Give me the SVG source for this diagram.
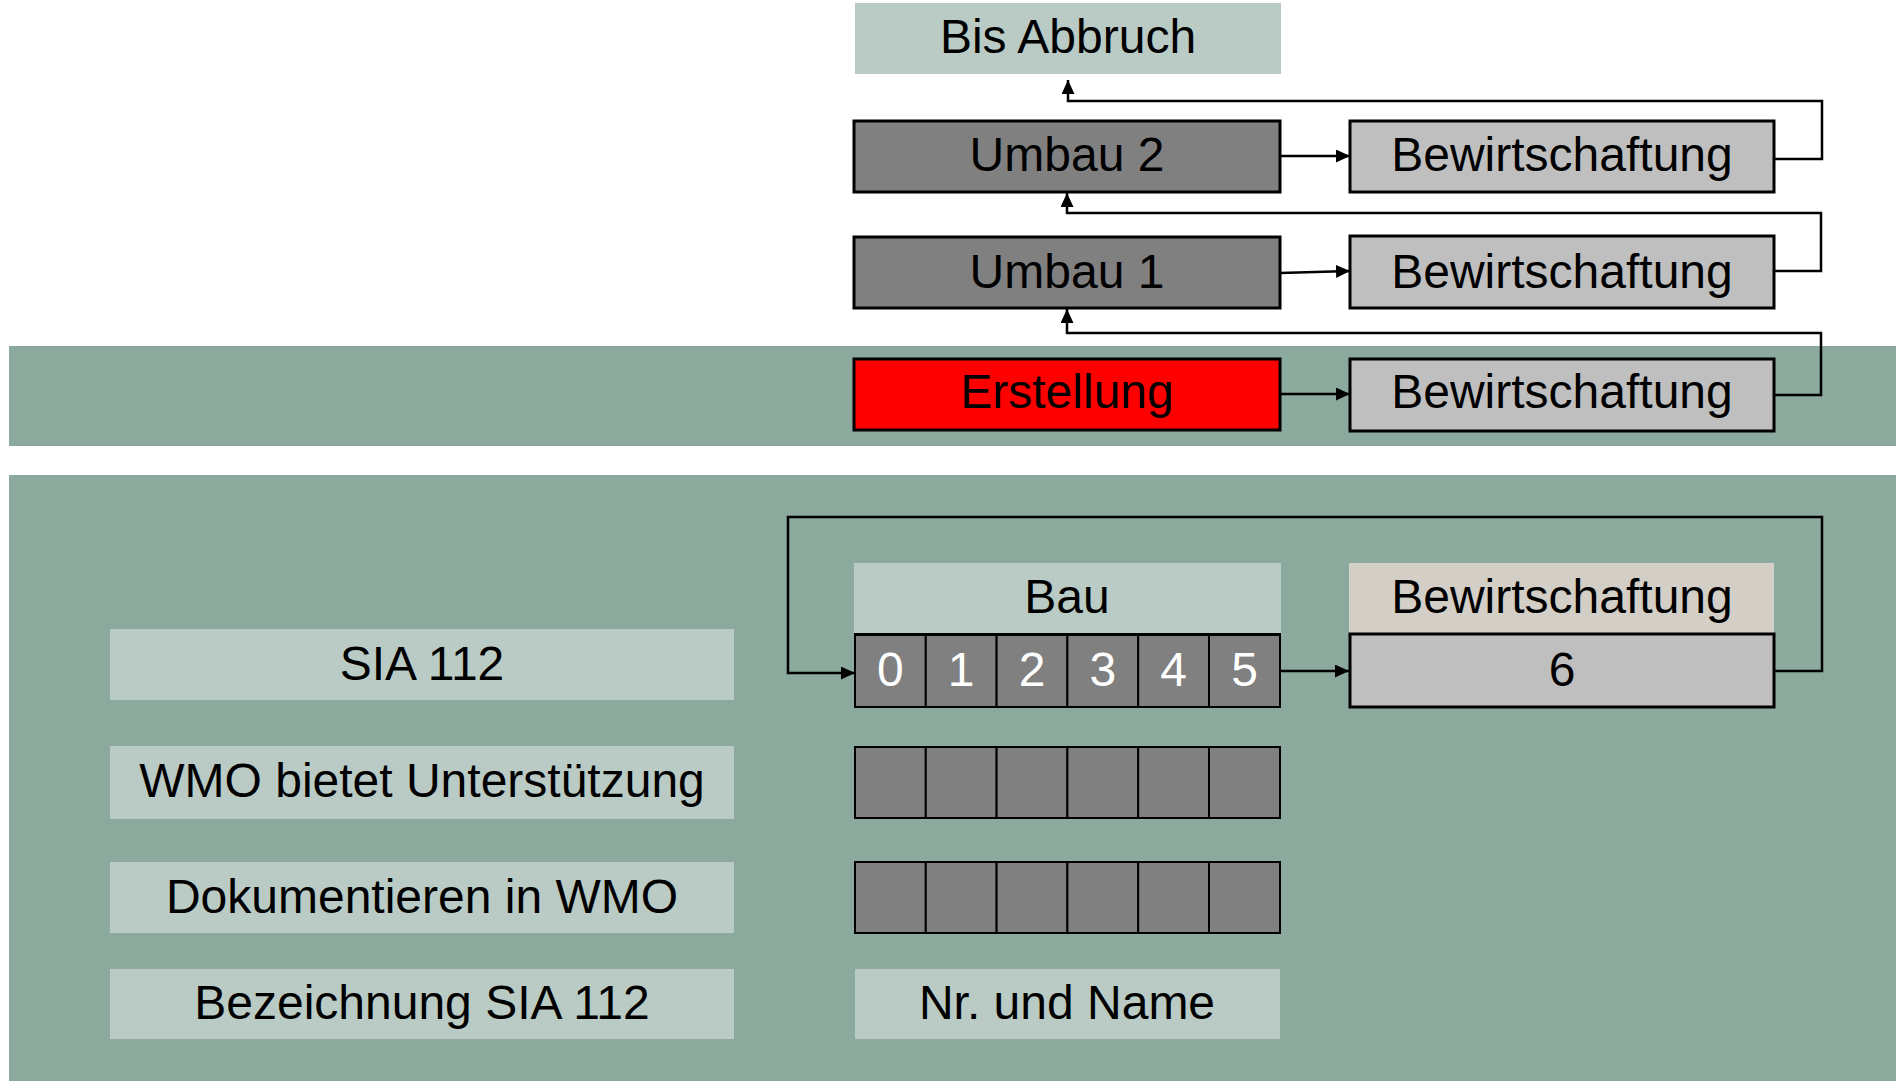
<svg xmlns="http://www.w3.org/2000/svg" width="1896" height="1081" viewBox="0 0 1896 1081">
<defs>
<style>
text{font-family:"Liberation Sans",Arial,sans-serif;font-size:48px;text-anchor:middle;fill:#000}
.band{fill:#8ba99c}
.lite{fill:#b9cbc4}
.dark{fill:#808080;stroke:#000;stroke-width:3}
.gray{fill:#bfbfbf;stroke:#000;stroke-width:3}
.red{fill:#ff0000;stroke:#000;stroke-width:3}
.tan{fill:#d3cec6}
.cell{fill:#808080;stroke:#000;stroke-width:2}
.w{fill:#fff}
.con{fill:none;stroke:#000;stroke-width:2.5;marker-end:url(#ah)}
</style>
<marker id="ah" markerUnits="userSpaceOnUse" markerWidth="16" markerHeight="14" refX="14" refY="6.5" orient="auto">
<path d="M0,0 L14,6.5 L0,13 z" fill="#000"/>
</marker>
</defs>
<rect width="1896" height="1081" fill="#fff"/>
<rect class="band" x="9" y="346" width="1887" height="100"/>
<rect class="band" x="9" y="475" width="1887" height="606"/>

<g id="bis-abbruch"><rect class="lite" x="855" y="3" width="426" height="71"/><text x="1068" y="53">Bis Abbruch</text></g>
<g id="umbau2"><rect class="dark" x="854" y="121" width="426" height="71"/><text x="1067" y="171">Umbau 2</text></g>
<g id="bew2"><rect class="gray" x="1350" y="121" width="424" height="71"/><text x="1562" y="171">Bewirtschaftung</text></g>
<g id="umbau1"><rect class="dark" x="854" y="237" width="426" height="71"/><text x="1067" y="288">Umbau 1</text></g>
<g id="bew1"><rect class="gray" x="1350" y="236" width="424" height="72"/><text x="1562" y="288">Bewirtschaftung</text></g>
<g id="erstellung"><rect class="red" x="854" y="359" width="426" height="71"/><text x="1067" y="408">Erstellung</text></g>
<g id="bew0"><rect class="gray" x="1350" y="359" width="424" height="72"/><text x="1562" y="408">Bewirtschaftung</text></g>

<g id="sia112"><rect class="lite" x="110" y="629" width="624" height="71"/><text x="422" y="680">SIA 112</text></g>
<g id="wmo-support"><rect class="lite" x="110" y="746" width="624" height="73"/><text x="422" y="797">WMO bietet Unterstützung</text></g>
<g id="wmo-doc"><rect class="lite" x="110" y="862" width="624" height="71"/><text x="422" y="913">Dokumentieren in WMO</text></g>
<g id="bez-sia"><rect class="lite" x="110" y="969" width="624" height="70"/><text x="422" y="1019">Bezeichnung SIA 112</text></g>

<g id="bau"><rect class="lite" x="854" y="563" width="427" height="71"/><text x="1067" y="613">Bau</text></g>
<g id="bew-header"><rect class="tan" x="1349" y="563" width="425" height="71"/><text x="1562" y="613">Bewirtschaftung</text></g>
<g id="phases">
<rect class="cell" x="855" y="634" width="70.8" height="73"/>
<rect class="cell" x="925.8" y="634" width="70.8" height="73"/>
<rect class="cell" x="996.6" y="634" width="70.8" height="73"/>
<rect class="cell" x="1067.4" y="634" width="70.8" height="73"/>
<rect class="cell" x="1138.2" y="634" width="70.8" height="73"/>
<rect class="cell" x="1209" y="634" width="71" height="73"/>
<line x1="855" y1="634.5" x2="1280" y2="634.5" stroke="#000" stroke-width="3"/>
<text class="w" x="890.4" y="686">0</text>
<text class="w" x="961.2" y="686">1</text>
<text class="w" x="1032" y="686">2</text>
<text class="w" x="1102.8" y="686">3</text>
<text class="w" x="1173.6" y="686">4</text>
<text class="w" x="1244.5" y="686">5</text>
</g>
<g id="phase6"><rect class="gray" x="1350" y="634" width="424" height="73"/><text x="1562" y="686">6</text></g>
<g id="grid-support">
<rect class="cell" x="855" y="747" width="70.8" height="71"/>
<rect class="cell" x="925.8" y="747" width="70.8" height="71"/>
<rect class="cell" x="996.6" y="747" width="70.8" height="71"/>
<rect class="cell" x="1067.4" y="747" width="70.8" height="71"/>
<rect class="cell" x="1138.2" y="747" width="70.8" height="71"/>
<rect class="cell" x="1209" y="747" width="71" height="71"/>
</g>
<g id="grid-doc">
<rect class="cell" x="855" y="862" width="70.8" height="71"/>
<rect class="cell" x="925.8" y="862" width="70.8" height="71"/>
<rect class="cell" x="996.6" y="862" width="70.8" height="71"/>
<rect class="cell" x="1067.4" y="862" width="70.8" height="71"/>
<rect class="cell" x="1138.2" y="862" width="70.8" height="71"/>
<rect class="cell" x="1209" y="862" width="71" height="71"/>
</g>
<g id="nr-name"><rect class="lite" x="855" y="969" width="425" height="70"/><text x="1067" y="1019">Nr. und Name</text></g>

<g id="connectors">
<path class="con" d="M1774 159 H1822 V101 H1068 V80"/>
<path class="con" d="M1280 156 H1350"/>
<path class="con" d="M1774 271 H1821 V213 H1067 V193"/>
<path class="con" d="M1280 273 L1350 271"/>
<path class="con" d="M1774 395 H1821 V333 H1067 V309"/>
<path class="con" d="M1280 394 H1350"/>
<path class="con" d="M1774 671 H1822 V517 H788 V673 H855"/>
<path class="con" d="M1280 671 H1349"/>
</g>
</svg>
